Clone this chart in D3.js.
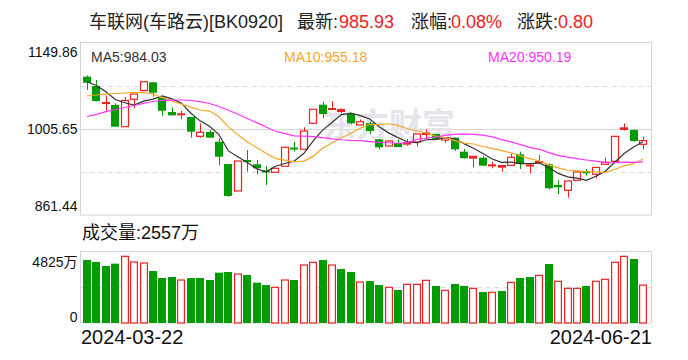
<!DOCTYPE html>
<html>
<head>
<meta charset="utf-8">
<script src="https://cdn.jsdelivr.net/npm/d3@7"></script>
<style>
  body { margin: 0; background: #fff; }
  svg { display: block; font-family: "Liberation Sans", Arial, "Noto Sans CJK SC", sans-serif; }
</style>
</head>
<body>
<div id="chart"></div>
<script>
// trading days shown
const dates = [
  "2024-03-22", "2024-03-25", "2024-03-26", "2024-03-27", "2024-03-28", "2024-03-29",
  "2024-04-01", "2024-04-02", "2024-04-03", "2024-04-08", "2024-04-09", "2024-04-10",
  "2024-04-11", "2024-04-12", "2024-04-15", "2024-04-16", "2024-04-17", "2024-04-18",
  "2024-04-19", "2024-04-22", "2024-04-23", "2024-04-24", "2024-04-25", "2024-04-26",
  "2024-04-29", "2024-04-30", "2024-05-06", "2024-05-07", "2024-05-08", "2024-05-09",
  "2024-05-10", "2024-05-13", "2024-05-14", "2024-05-15", "2024-05-16", "2024-05-17",
  "2024-05-20", "2024-05-21", "2024-05-22", "2024-05-23", "2024-05-24", "2024-05-27",
  "2024-05-28", "2024-05-29", "2024-05-30", "2024-05-31", "2024-06-03", "2024-06-04",
  "2024-06-05", "2024-06-06", "2024-06-07", "2024-06-11", "2024-06-12", "2024-06-13",
  "2024-06-14", "2024-06-17", "2024-06-18", "2024-06-19", "2024-06-20", "2024-06-21"
];

const open = [
  1092.7, 1077.1, 1048.2, 1045.3, 1009.1, 1054.9, 1069.6, 1083.3, 1057.6, 1033.7,
  1029.5, 1025.3, 993.0, 1000.2, 984.0, 946.7, 901.6, 951.7, 946.2, 934.2,
  932.8, 942.9, 972.6, 971.3, 1014.8, 1045.9, 1038.2, 1033.7, 1030.3, 1011.9,
  1014.8, 988.0, 976.8, 981.8, 979.0, 983.5, 995.2, 996.9, 986.8, 990.7,
  967.3, 955.6, 957.2, 943.9, 940.5, 944.5, 962.9, 943.4, 947.9, 946.2,
  911.6, 902.7, 919.5, 935.0, 929.5, 946.2, 951.2, 1003.6, 1003.6, 979.6
];
const close = [
  1082.6, 1052.1, 1048.7, 1009.1, 1052.9, 1063.7, 1084.3, 1065.9, 1035.8, 1028.1,
  1029.8, 1000.7, 999.7, 990.7, 958.9, 893.2, 951.7, 950.9, 939.5, 933.3,
  939.5, 974.6, 971.8, 1001.9, 1038.2, 1030.3, 1038.7, 1037.0, 1014.8, 1017.4,
  1001.9, 974.6, 985.2, 975.1, 981.3, 996.9, 997.7, 988.0, 990.7, 971.3,
  956.4, 958.9, 943.9, 944.5, 943.4, 957.9, 946.7, 944.2, 950.0, 906.1,
  907.8, 918.3, 933.3, 931.2, 941.05, 949.7, 993.0, 1006.4, 985.13, 985.93
];
const high = [
  1094.7, 1087.2, 1061.2, 1048.2, 1058.7, 1063.7, 1084.3, 1083.8, 1059.2, 1041.5,
  1035.8, 1025.3, 1014.8, 1003.6, 989.7, 946.7, 951.7, 970.1, 953.4, 943.4,
  940.0, 975.1, 984.0, 1008.1, 1038.7, 1050.9, 1052.1, 1039.8, 1032.0, 1021.4,
  1017.4, 988.5, 986.8, 987.7, 988.5, 997.7, 1004.7, 996.9, 991.0, 991.0,
  971.8, 958.9, 960.1, 950.5, 944.2, 963.4, 967.3, 947.9, 961.8, 947.9,
  919.9, 919.1, 936.7, 938.3, 941.2, 957.9, 993.5, 1014.8, 1004.4, 992.3
];
const low = [
  1070.4, 1051.2, 1035.8, 1009.1, 1009.1, 1039.8, 1069.6, 1059.2, 1027.5, 1027.8,
  1021.4, 990.7, 990.7, 990.7, 945.0, 892.0, 901.6, 933.8, 929.5, 911.6,
  932.5, 942.5, 967.3, 971.3, 1014.4, 1023.1, 1037.8, 1031.5, 1013.1, 1011.9,
  996.9, 971.3, 976.8, 975.1, 976.8, 976.0, 989.7, 986.8, 982.3, 968.4,
  955.6, 940.5, 943.9, 939.5, 933.8, 944.5, 938.3, 931.2, 947.5, 904.4,
  896.1, 890.4, 919.1, 927.1, 922.8, 945.9, 951.2, 1002.4, 984.0, 971.3
];
// volume in 万
const volume = [
  4251, 4116, 3846, 4004, 4499, 4116, 4049, 3509, 3037, 3104,
  2902, 3037, 3037, 2902, 3396, 3441, 3307, 3239, 2722, 2564,
  2407, 2902, 2902, 3914, 4094, 4251, 3914, 3644, 3441, 2767,
  2834, 2564, 2407, 2227, 2609, 2609, 2879, 2497, 2204, 2632,
  2497, 2339, 2092, 2070, 2159, 2744, 3037, 3104, 3217, 3981,
  2812, 2339, 2339, 2497, 2812, 2947, 4094, 4499, 4319, 2557
];
// moving average values before enough closes exist in the window
const ma5Head = [1084.3, 1078.0, 1067.6, 1054.6];
const ma10Head = [1060.4, 1062.1, 1063.7, 1064.6, 1065.4, 1065.9, 1066.3, 1063.7, 1057.9];
const ma20Head = [1026.1, 1029.8, 1034.2, 1037.8, 1041.2, 1044.5, 1048.2, 1051.2, 1053.2, 1053.7,
  1053.7, 1052.9, 1050.9, 1047.9, 1042.8, 1036.5, 1029.8, 1022.9, 1015.9];

const priceTicks = [861.44, 1005.65, 1149.86];
const volTicks = [0, 4825];
const dateTicks = ["2024-03-22", "2024-06-21"];

const RED = "#f02020", GREEN = "#009c00";

const W = 688, H = 360;
const L = 80.5, R = 651.5, pTop = 42.5, pBot = 215, vTop = 251.5, vBot = 323;

const svg = d3.select("#chart").append("svg").attr("width", W).attr("height", H);

const x = d3.scalePoint().domain(dates).range([87, 643]);
const bw = Math.round(x.step() * 0.8);
const y = d3.scaleLinear().domain([priceTicks[0], priceTicks[2]]).range([pBot, pTop]);
const yv = d3.scaleLinear().domain([volTicks[0], volTicks[1]]).range([vBot, vTop]);
const cx = d => Math.round(x(d)) + 0.5;

// title
const title = svg.append("g").attr("font-size", 18).attr("dominant-baseline", "central");
[["车联网(车路云)[BK0920]", 89, "#222"], ["最新:", 297, "#222"], ["985.93", 339, RED],
 ["涨幅:", 411, "#222"], ["0.08%", 451, RED], ["涨跌:", 517, "#222"], ["0.80", 558, RED]]
  .forEach(([t, tx, c]) => title.append("text").attr("x", tx).attr("y", 22).attr("fill", c).text(t));

// frames and grid
[[pTop, pBot], [vTop, vBot]].forEach(([t, b]) => {
  svg.append("rect").attr("x", L).attr("y", t).attr("width", R - L).attr("height", b - t)
    .attr("fill", "none").attr("stroke", "#d4d4d4");
});
const q = d3.range(1, 4).map(k => priceTicks[0] + (priceTicks[2] - priceTicks[0]) * k / 4);
q.forEach((v, k) => {
  svg.append("line").attr("x1", L).attr("x2", R)
    .attr("y1", Math.round(y(v)) + 0.5).attr("y2", Math.round(y(v)) + 0.5)
    .attr("stroke", k === 1 ? "#d4d4d4" : "#dcdcdc")
    .attr("stroke-dasharray", k === 1 ? null : "5,4");
});
svg.append("line").attr("x1", L).attr("x2", R)
  .attr("y1", Math.round(yv(volTicks[1] / 2)) + 0.5).attr("y2", Math.round(yv(volTicks[1] / 2)) + 0.5)
  .attr("stroke", "#dcdcdc").attr("stroke-dasharray", "5,4");

// watermark
svg.append("text").attr("x", 323).attr("y", 137).attr("font-size", 33).attr("font-weight", "bold")
  .attr("fill", "#e4e4ea").attr("font-family", "Noto Sans CJK SC").text("东方财富");

// axes
const pAxis = svg.append("g").attr("transform", `translate(${L - 1},0)`)
  .call(d3.axisLeft(y).tickValues(priceTicks).tickSize(0).tickPadding(2).tickFormat(d3.format(".2f")));
const vAxis = svg.append("g").attr("transform", `translate(${L - 1},0)`)
  .call(d3.axisLeft(yv).tickValues(volTicks).tickSize(0).tickPadding(2).tickFormat(d => d ? d + "万" : "0"));
const dAxis = svg.append("g").attr("transform", `translate(0,${vBot})`)
  .call(d3.axisBottom(x).tickValues(dateTicks).tickSize(0).tickPadding(7));
[pAxis, vAxis, dAxis].forEach(a => {
  a.select(".domain").remove();
  a.selectAll("text").attr("fill", "#111").attr("font-family", "Liberation Sans, Arial, Noto Sans CJK SC, sans-serif");
});
pAxis.selectAll("text").attr("font-size", 14)
  .attr("dy", d => d === priceTicks[2] ? "1.0em" : d === priceTicks[0] ? "-0.35em" : "0.32em");
vAxis.selectAll("text").attr("font-size", 14)
  .attr("dy", d => d === volTicks[1] ? "1.05em" : "-0.12em");
dAxis.selectAll("text").attr("font-size", 20)
  .attr("text-anchor", (d, i) => i === 0 ? "start" : "end")
  .attr("x", (d, i) => i === 0 ? L - x(d) : R - x(d));

// legend
const ma = (n, head) => close.map((c, i) => i < n - 1 ? head[i] : d3.mean(close.slice(i - n + 1, i + 1)));
const ma5 = ma(5, ma5Head), ma10 = ma(10, ma10Head), ma20 = ma(20, ma20Head);
const maSet = [["MA5", ma5, "#333", 91], ["MA10", ma10, "#f5a623", 284], ["MA20", ma20, "#ff33ff", 488]];
maSet.forEach(([n, s, c, lx]) => {
  svg.append("text").attr("x", lx).attr("y", 57).attr("dominant-baseline", "central")
    .attr("font-size", 14).attr("fill", c).text(n + ":" + s[s.length - 1].toFixed(2));
});

// candles
const candles = svg.append("g");
dates.forEach((d, i) => {
  const o = open[i], c = close[i], up = c >= o;
  const col = up ? RED : GREEN;
  const xc = cx(d);
  const top = y(Math.max(o, c)), bot = y(Math.min(o, c));
  const bx = Math.round(x(d) - bw / 2);
  if (up) {
    candles.append("line").attr("x1", xc).attr("x2", xc).attr("y1", y(high[i])).attr("y2", top)
      .attr("stroke", col);
    candles.append("line").attr("x1", xc).attr("x2", xc).attr("y1", bot).attr("y2", y(low[i]))
      .attr("stroke", col);
    if (bot - top < 2) {
      candles.append("rect").attr("x", bx).attr("y", top - 1).attr("width", bw).attr("height", Math.max(2, bot - top + 1))
        .attr("fill", col);
    } else {
      candles.append("rect").attr("x", bx + 0.5).attr("y", top).attr("width", bw - 1).attr("height", bot - top)
        .attr("fill", "#fff").attr("stroke", col).attr("stroke-width", 1.2);
    }
  } else {
    candles.append("line").attr("x1", xc).attr("x2", xc).attr("y1", y(high[i])).attr("y2", y(low[i]))
      .attr("stroke", col);
    candles.append("rect").attr("x", bx).attr("y", top - (bot - top < 2 ? 1 : 0)).attr("width", bw)
      .attr("height", Math.max(2, bot - top)).attr("fill", col);
  }
});

// moving averages
const line = d3.line().x((v, i) => x(dates[i])).y(v => y(v));
maSet.forEach(([n, s, c]) => {
  svg.append("path").attr("d", line(s)).attr("fill", "none").attr("stroke", c).attr("stroke-width", 1.2);
});

// volume
svg.append("g").selectAll("rect").data(dates).join("rect")
  .each(function (d, i) {
    const prev = i ? close[i - 1] : open[i];
    const up = close[i] >= prev;
    const bx = Math.round(x(d) - bw / 2);
    const t = yv(volume[i]);
    const r = d3.select(this);
    if (up) {
      r.attr("x", bx + 0.6).attr("y", t).attr("width", bw - 1.2).attr("height", vBot - t)
        .attr("fill", "#fff").attr("stroke", RED).attr("stroke-width", 1.2);
    } else {
      r.attr("x", bx).attr("y", t).attr("width", bw).attr("height", vBot - t).attr("fill", GREEN);
    }
  });

svg.append("text").attr("x", 82).attr("y", 233).attr("dominant-baseline", "central")
  .attr("font-size", 18).attr("fill", "#111").text("成交量:" + volume[volume.length - 1] + "万");
</script>
</body>
</html>
